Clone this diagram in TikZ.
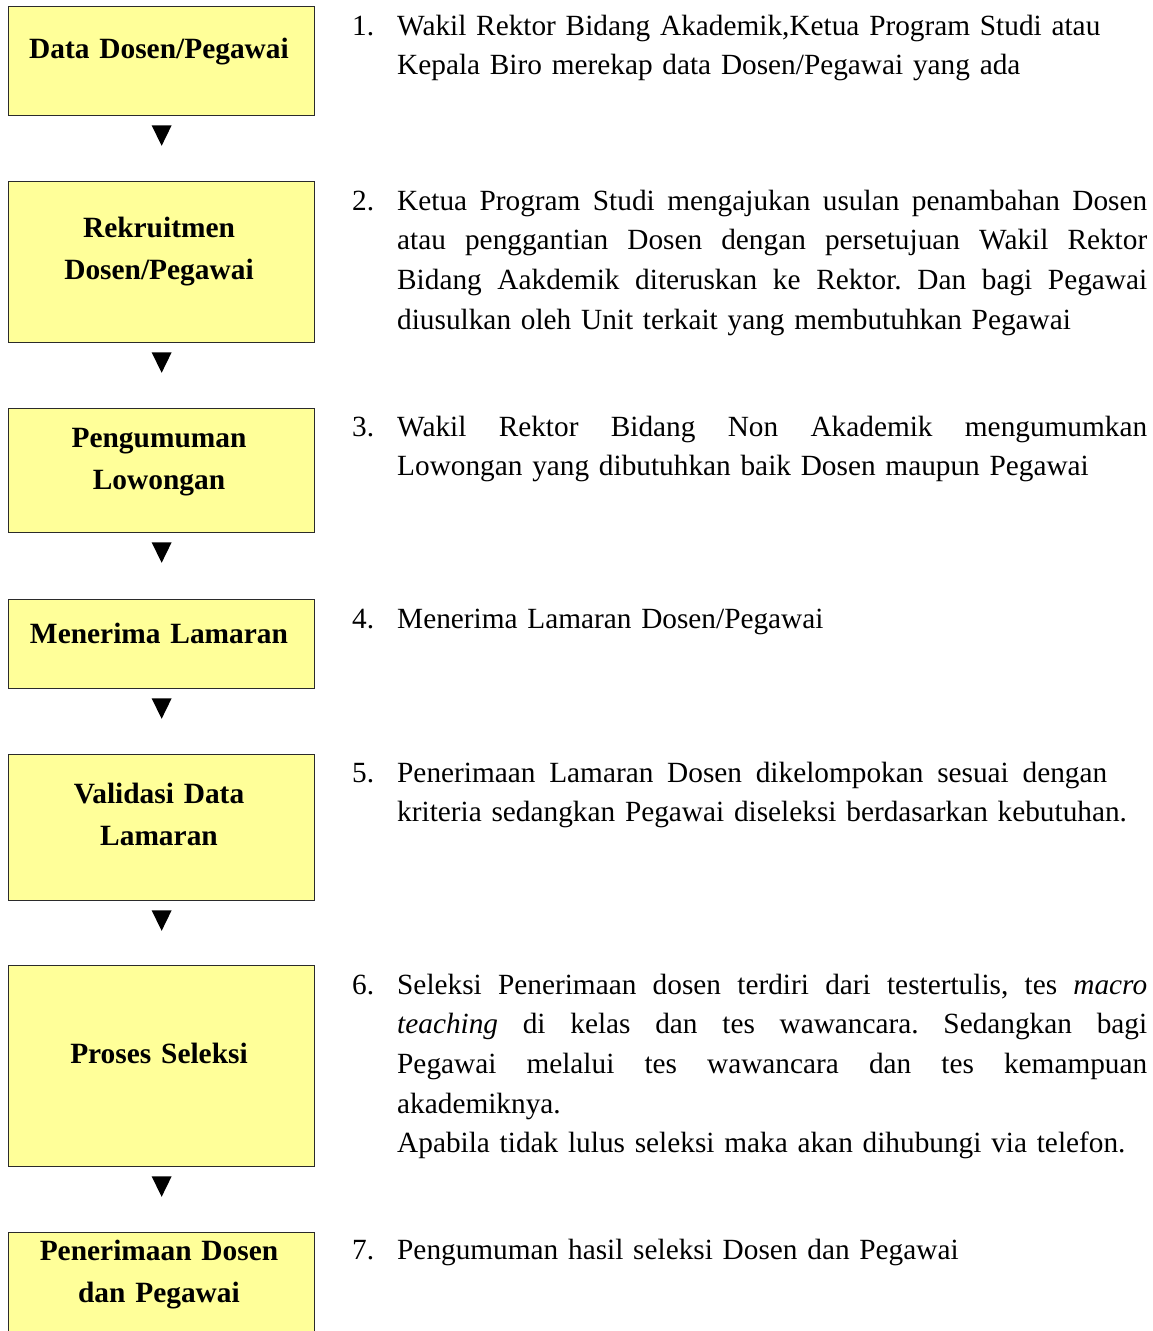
\documentclass[tikz,border=0pt]{standalone}
\usepackage{fontspec}
\setmainfont{Liberation Serif}
\usetikzlibrary{calc}
\definecolor{boxfill}{HTML}{FFFF99}
\definecolor{boxline}{HTML}{2B2B2B}
% one justified line of a description, spread to the full column width
\newcommand{\jline}[1]{\makebox[750pt][s]{\spaceskip=0pt\xspaceskip=0pt #1}}
\begin{document}
\begin{tikzpicture}[x=1pt,y=-1pt,
  stage/.style={draw=boxline, line width=1.3pt, fill=boxfill, inner sep=0pt,
                minimum width=306pt, anchor=north west},
  stagetext/.style={anchor=north, inner sep=0pt, text width=300pt, align=center,
                    font=\fontsize{29.4}{42.5}\selectfont\bfseries},
  stepnum/.style={anchor=base west, inner sep=0pt, font=\fontsize{29.3}{39.6}\selectfont},
  stepdesc/.style={anchor=north west, inner sep=0pt, text width=750pt, align=left,
                   font=\fontsize{29.3}{39.6}\selectfont\frenchspacing},
  flowtip/.style={fill=black}
]
\fill[white] (0,0) rectangle (1153,1331);
\useasboundingbox (0,0) rectangle (1153,1331);
\clip (0,0) rectangle (1153,1331);

% ---- stage boxes ----
\node[stage, minimum height=109pt] (b1) at (8,6)    {};
\node[stage, minimum height=161pt] (b2) at (8,181)  {};
\node[stage, minimum height=124pt] (b3) at (8,408)  {};
\node[stage, minimum height=89pt]  (b4) at (8,599)  {};
\node[stage, minimum height=146pt] (b5) at (8,754)  {};
\node[stage, minimum height=201pt] (b6) at (8,965)  {};
\node[stage, minimum height=120pt] (b7) at (8,1231.5) {};

% ---- stage titles (first baseline minus strut height) ----
\node[stagetext] (l1) at (159,58.3-29.75) {\strut Data Dosen/Pegawai};
\node[stagetext] (l2) at (159,237-29.75)  {\strut Rekruitmen\\Dosen/Pegawai};
\node[stagetext] (l3) at (159,447-29.75)  {\strut Pengumuman\\Lowongan};
\node[stagetext] (l4) at (159,643-29.75)  {\strut Menerima Lamaran};
\node[stagetext] (l5) at (159,803-29.75)  {\strut Validasi Data\\Lamaran};
\node[stagetext] (l6) at (159,1063-29.75) {\strut Proses Seleksi};
\node[stagetext] (l7) at (159,1260-29.75) {\strut Penerimaan Dosen\\dan Pegawai};

% ---- flow markers between consecutive stages ----
\foreach \a/\b in {b1/t1,b2/t2,b3/t3,b4/t4,b5/t5,b6/t6}{
  \coordinate (\b) at ($(\a.south)+(0,9)$);
  \fill[flowtip] ($(\b)+(-10,0)$) -- ++(20,0) -- ++(-10,20.5) -- cycle;
}

% ---- numbered descriptions ----
\node[stepnum] (n1) at (352,35)   {1.};
\node[stepnum] (n2) at (352,210)  {2.};
\node[stepnum] (n3) at (352,436)  {3.};
\node[stepnum] (n4) at (352,628)  {4.};
\node[stepnum] (n5) at (352,782)  {5.};
\node[stepnum] (n6) at (352,994)  {6.};
\node[stepnum] (n7) at (352,1259) {7.};

\node[stepdesc] (d1) at (397,35-27.72) {\strut Wakil Rektor Bidang Akademik,Ketua Program Studi atau\\
  Kepala Biro merekap data Dosen/Pegawai yang ada};
\node[stepdesc] (d2) at (397,210-27.72) {\jline{\strut Ketua Program Studi mengajukan usulan penambahan Dosen}\\
  \jline{atau penggantian Dosen dengan persetujuan Wakil Rektor}\\
  \jline{Bidang Aakdemik diteruskan ke Rektor. Dan bagi Pegawai}\\
  diusulkan oleh Unit terkait yang membutuhkan Pegawai};
\node[stepdesc] (d3) at (397,436-27.72) {\jline{\strut Wakil Rektor Bidang Non Akademik mengumumkan}\\
  Lowongan yang dibutuhkan baik Dosen maupun Pegawai};
\node[stepdesc] (d4) at (397,628-27.72) {\strut Menerima Lamaran Dosen/Pegawai};
\node[stepdesc] (d5) at (397,782-27.72) {\makebox[710pt][s]{\spaceskip=0pt\strut Penerimaan Lamaran Dosen dikelompokan sesuai dengan}\\
  kriteria sedangkan Pegawai diseleksi berdasarkan kebutuhan.};
\node[stepdesc] (d6) at (397,994-27.72) {\jline{\strut Seleksi Penerimaan dosen terdiri dari testertulis, tes \textit{macro}}\\
  \jline{\textit{teaching} di kelas dan tes wawancara. Sedangkan bagi}\\
  \jline{Pegawai melalui tes wawancara dan tes kemampuan}\\
  akademiknya.\\
  Apabila tidak lulus seleksi maka akan dihubungi via telefon.};
\node[stepdesc] (d7) at (397,1259-27.72) {\strut Pengumuman hasil seleksi Dosen dan Pegawai};
\end{tikzpicture}
\end{document}
